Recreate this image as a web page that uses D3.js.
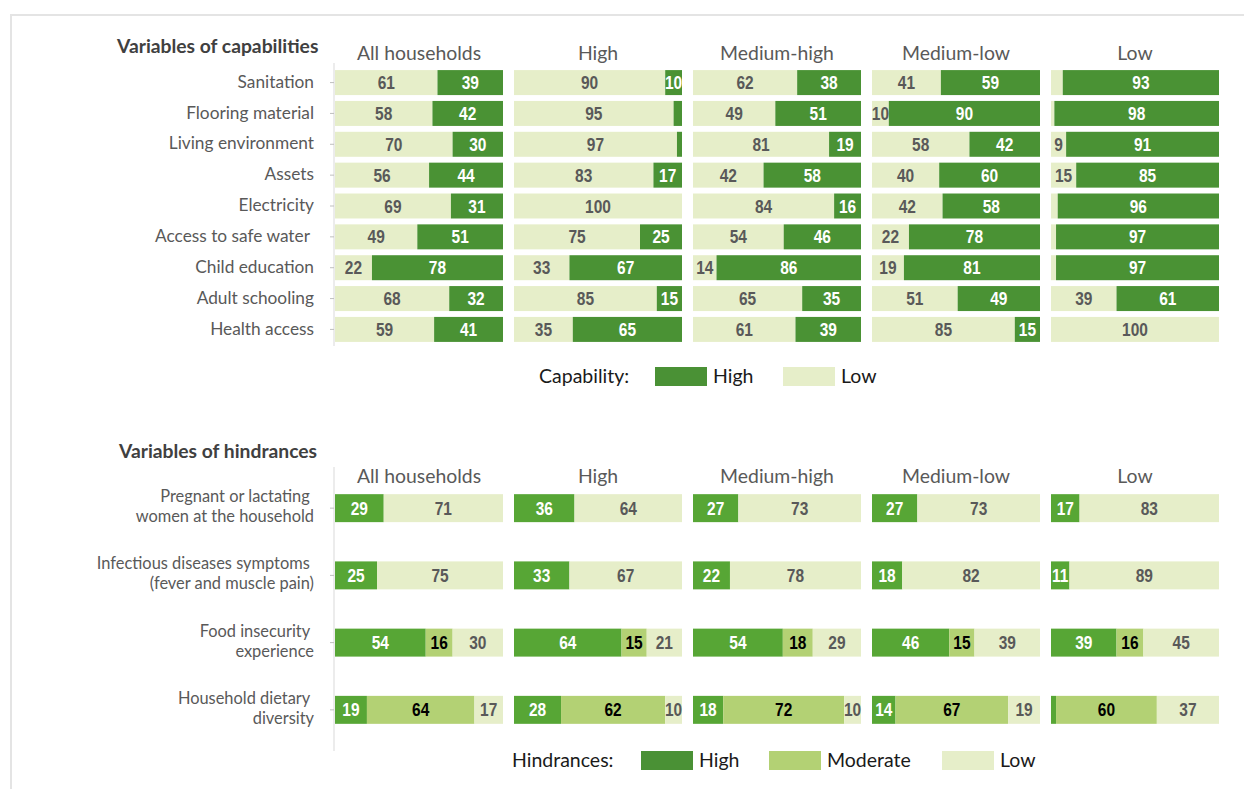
<!DOCTYPE html>
<meta charset="utf-8">
<style>
body { margin: 0; background: #fff; }
svg { display: block; }
.lab { font-family: Lato, "Open Sans", sans-serif; fill: #595959; }
.val { font-family: "Liberation Sans", Arial, sans-serif; font-weight: bold; font-size: 15.5px; }
</style>
<body>
<script src="https://cdn.jsdelivr.net/npm/d3@7"></script>
<script>

// groups (columns of panels)
const groups = ["All households", "High", "Medium-high", "Medium-low", "Low"];

// capabilities
const capVars = ["Sanitation", "Flooring material", "Living environment", "Assets", "Electricity",
  "Access to safe water\u00a0", "Child education", "Adult schooling", "Health access"];
const capLow = [
  [61, 58, 70, 56, 69, 49, 22, 68, 59],
  [90, 95, 97, 83, 100, 75, 33, 85, 35],
  [62, 49, 81, 42, 84, 54, 14, 65, 61],
  [41, 10, 58, 40, 42, 22, 19, 51, 85],
  [7, 2, 9, 15, 4, 3, 3, 39, 100]
];
const capHigh = [
  [39, 42, 30, 44, 31, 51, 78, 32, 41],
  [10, 5, 3, 17, 0, 25, 67, 15, 65],
  [38, 51, 19, 58, 16, 46, 86, 35, 39],
  [59, 90, 42, 60, 58, 78, 81, 49, 15],
  [93, 98, 91, 85, 96, 97, 97, 61, 0]
];

// hindrances
const hinVars = ["Pregnant or lactating\u00a0|women at the household",
  "Infectious diseases symptoms\u00a0|(fever and muscle pain)",
  "Food insecurity\u00a0|experience",
  "Household dietary\u00a0|diversity"];
const hinHigh = [
  [29, 25, 54, 19],
  [36, 33, 64, 28],
  [27, 22, 54, 18],
  [27, 18, 46, 14],
  [17, 11, 39, 3]
];
const hinMod = [
  [0, 0, 16, 64],
  [0, 0, 15, 62],
  [0, 0, 18, 72],
  [0, 0, 15, 67],
  [0, 0, 16, 60]
];
const hinLow = [
  [71, 75, 30, 17],
  [64, 67, 21, 10],
  [73, 78, 29, 10],
  [73, 82, 39, 19],
  [83, 89, 45, 37]
];

const width = 1244, height = 789;

const capColor = {low: "#e6eec9", high: "#4a9234"};
const capText = {low: "#595959", high: "#ffffff"};
const hinColor = {high: "#57a635", mod: "#b3d174", low: "#e6eec9"};
const hinText = {high: "#ffffff", mod: "#000000", low: "#595959"};

const svg = d3.select("body").append("svg")
  .attr("width", width)
  .attr("height", height);

// frame
svg.append("path")
  .attr("d", "M11,789V15H1244")
  .attr("fill", "none")
  .attr("stroke", "#e4e4e4")
  .attr("stroke-width", 2);

const gx = d3.scaleBand()
  .domain(groups)
  .range([335, 1219])
  .paddingInner(11 / 179)
  .paddingOuter(0);

const yCap = d3.scaleBand()
  .domain(capVars)
  .range([67, 345])
  .paddingInner(0.19)
  .paddingOuter(0.1);

const yHin = d3.scaleBand()
  .domain(hinVars)
  .range([474, 744])
  .paddingInner(0.584)
  .paddingOuter(0.3);

function drawPanel(g, gi, y, keys, rows, colors, textColors) {
  const stacked = d3.stack().keys(keys).offset(d3.stackOffsetExpand)(rows);
  const x = d3.scaleLinear().domain([0, 1]).range([gx(g), gx(g) + gx.bandwidth()]);
  const layer = svg.append("g").selectAll("g")
    .data(stacked)
    .join("g")
      .attr("fill", d => colors[d.key]);
  layer.selectAll("rect")
    .data(d => d.filter(s => s.data[d.key] > 0))
    .join("rect")
      .attr("x", d => x(d[0]))
      .attr("y", d => y(d.data.v))
      .attr("width", d => x(d[1]) - x(d[0]))
      .attr("height", y.bandwidth());
  svg.append("g").selectAll("g")
    .data(stacked)
    .join("g")
      .attr("fill", d => textColors[d.key])
    .selectAll("text")
    .data(d => d.filter(s => s.data[d.key] >= 9).map(s => (s.key = d.key, s)))
    .join("text")
      .attr("class", "val")
      .attr("text-anchor", "middle")
      .attr("transform", d => `translate(${(x(d[0]) + x(d[1])) / 2},${y(d.data.v) + y.bandwidth() / 2}) scale(1,1.18)`)
      .attr("dy", "0.36em")
      .text(d => d.data[d.key]);
}

groups.forEach((g, gi) => {
  const capRows = capVars.map((v, j) => ({v: v, low: capLow[gi][j], high: capHigh[gi][j]}));
  drawPanel(g, gi, yCap, ["low", "high"], capRows, capColor, capText);
  const hinRows = hinVars.map((v, j) => ({v: v, high: hinHigh[gi][j], mod: hinMod[gi][j], low: hinLow[gi][j]}));
  drawPanel(g, gi, yHin, ["high", "mod", "low"], hinRows, hinColor, hinText);
});

// panel headers
[60, 483].forEach(yy => {
  svg.append("g").selectAll("text")
    .data(groups)
    .join("text")
      .attr("class", "lab")
      .attr("x", d => gx(d) + gx.bandwidth() / 2)
      .attr("y", yy)
      .attr("text-anchor", "middle")
      .attr("font-size", "19.4px")
      .text(d => d);
});

// left axes
svg.append("g")
  .attr("transform", "translate(334,0)")
  .call(d3.axisLeft(yCap).tickSize(4).tickSizeOuter(0).tickPadding(16))
  .call(g => g.select(".domain").attr("stroke", "#d9d9d9").attr("d", "M0,63V346"))
  .call(g => g.selectAll(".tick line").attr("stroke", "#bfbfbf"))
  .call(g => g.selectAll(".tick text")
    .attr("class", "lab")
    .attr("font-size", "17.3px")
    .attr("dy", "0.3em")
    .style("white-space", "pre"));

svg.append("g")
  .attr("transform", "translate(334,0)")
  .call(d3.axisLeft(yHin).tickSize(4).tickSizeOuter(0).tickFormat(""))
  .call(g => g.select(".domain").attr("stroke", "#d9d9d9").attr("d", "M0,467V751"))
  .call(g => g.selectAll(".tick line").attr("stroke", "#bfbfbf"));

svg.append("g").selectAll("text")
  .data(hinVars)
  .join("text")
    .attr("class", "lab")
    .attr("font-size", "16.4px")
    .attr("text-anchor", "end")
    .style("white-space", "pre")
    .selectAll("tspan")
    .data(d => d.split("|").map(t => ({t: t, v: d})))
    .join("tspan")
      .attr("x", 314)
      .attr("y", (d, i) => yHin(d.v) + yHin.bandwidth() / 2 - 6 + i * 20)
      .text(d => d.t);

// section titles
svg.append("text")
  .attr("x", 117).attr("y", 53)
  .attr("font-family", "Lato, sans-serif")
  .attr("font-weight", "bold")
  .attr("font-size", "19.3px")
  .attr("fill", "#404040")
  .text("Variables of capabilities");

svg.append("text")
  .attr("x", 119).attr("y", 458)
  .attr("font-family", "Lato, sans-serif")
  .attr("font-weight", "bold")
  .attr("font-size", "19.3px")
  .attr("fill", "#404040")
  .text("Variables of hindrances");

// legends
const capLegend = [{k: "High", c: "#4a9135", x: 655}, {k: "Low", c: "#e6eec9", x: 783}];
const hinLegend = [{k: "High", c: "#4a9135", x: 641}, {k: "Moderate", c: "#b3d174", x: 769}, {k: "Low", c: "#e6eec9", x: 942}];

function legend(title, tx, items, y0, boxH) {
  const lg = svg.append("g")
    .attr("font-family", "Lato, sans-serif")
    .attr("font-size", "19.5px")
    .attr("fill", "#1a1a1a");
  lg.append("text").attr("x", tx).attr("y", y0 + boxH - 3).text(title);
  lg.selectAll("rect")
    .data(items)
    .join("rect")
      .attr("x", d => d.x)
      .attr("y", y0)
      .attr("width", 52)
      .attr("height", boxH)
      .attr("fill", d => d.c);
  lg.selectAll("text.item")
    .data(items)
    .join("text")
      .attr("class", "item")
      .attr("x", d => d.x + 58)
      .attr("y", y0 + boxH - 3)
      .text(d => d.k);
}

legend("Capability:", 539, capLegend, 367, 19);
legend("Hindrances:", 512, hinLegend, 751, 19);

</script>
</body>
